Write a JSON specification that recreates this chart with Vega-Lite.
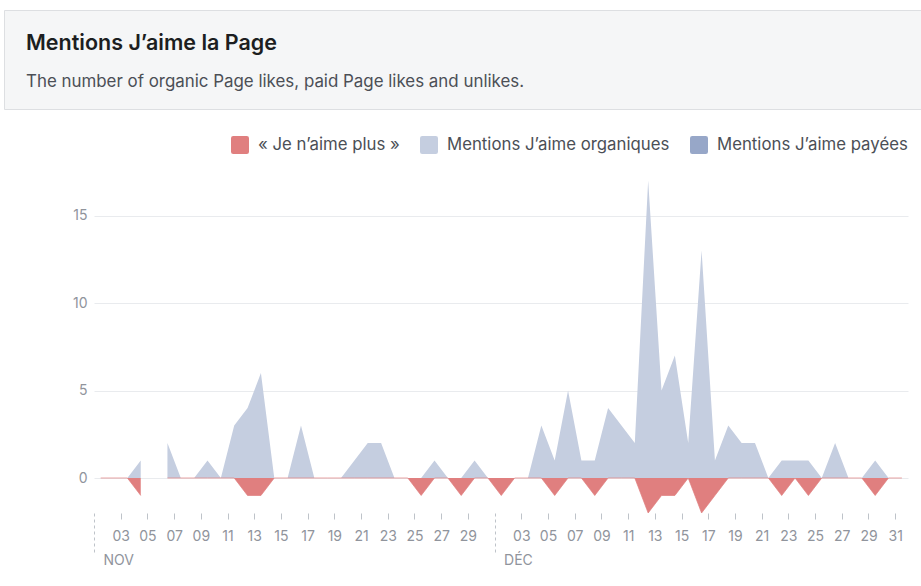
{
  "$schema": "https://vega.github.io/schema/vega-lite/v6.json",
  "padding": {"left": 3, "top": 9, "right": 0, "bottom": 0},
  "background": "white",
  "spacing": 25,
  "resolve": {"scale": {"color": "independent"}, "legend": {"color": "independent"}},
  "config": {
    "font": "Inter",
    "view": {"stroke": null}
  },
  "vconcat": [
    {
      "width": 918,
      "height": 99,
      "view": {"fill": "#f5f6f7", "stroke": "#dddfe2", "strokeWidth": 1},
      "title": {
        "text": "Mentions J’aime la Page",
        "subtitle": "The number of organic Page likes, paid Page likes and unlikes.",
        "anchor": "start",
        "frame": "group",
        "orient": "top",
        "offset": -80,
        "dx": 22,
        "font": "Inter",
        "fontSize": 21.5,
        "fontWeight": 600,
        "color": "#1c1e21",
        "subtitleFont": "Inter",
        "subtitleFontSize": 16.9,
        "subtitleColor": "#4b4f56",
        "subtitlePadding": 20
      },
      "data": {"values": [{"k": 1}]},
      "mark": {"type": "point", "opacity": 0},
      "encoding": {}
    },
    {
      "width": 905,
      "height": 378,
      "data": {
        "values": [
          {"d": "2023-11-01", "org": 0, "unl": 0, "paid": 0},
          {"d": "2023-11-02", "org": 0, "unl": 0, "paid": 0},
          {"d": "2023-11-03", "org": 0, "unl": 0, "paid": 0},
          {"d": "2023-11-04", "org": 1, "unl": -1, "paid": 0},
          {"d": "2023-11-05", "org": null, "unl": null, "paid": null},
          {"d": "2023-11-06", "org": 2, "unl": 0, "paid": 0},
          {"d": "2023-11-07", "org": 0, "unl": 0, "paid": 0},
          {"d": "2023-11-08", "org": 0, "unl": 0, "paid": 0},
          {"d": "2023-11-09", "org": 1, "unl": 0, "paid": 0},
          {"d": "2023-11-10", "org": 0, "unl": 0, "paid": 0},
          {"d": "2023-11-11", "org": 3, "unl": 0, "paid": 0},
          {"d": "2023-11-12", "org": 4, "unl": -1, "paid": 0},
          {"d": "2023-11-13", "org": 6, "unl": -1, "paid": 0},
          {"d": "2023-11-14", "org": 0, "unl": 0, "paid": 0},
          {"d": "2023-11-15", "org": 0, "unl": 0, "paid": 0},
          {"d": "2023-11-16", "org": 3, "unl": 0, "paid": 0},
          {"d": "2023-11-17", "org": 0, "unl": 0, "paid": 0},
          {"d": "2023-11-18", "org": 0, "unl": 0, "paid": 0},
          {"d": "2023-11-19", "org": 0, "unl": 0, "paid": 0},
          {"d": "2023-11-20", "org": 1, "unl": 0, "paid": 0},
          {"d": "2023-11-21", "org": 2, "unl": 0, "paid": 0},
          {"d": "2023-11-22", "org": 2, "unl": 0, "paid": 0},
          {"d": "2023-11-23", "org": 0, "unl": 0, "paid": 0},
          {"d": "2023-11-24", "org": 0, "unl": 0, "paid": 0},
          {"d": "2023-11-25", "org": 0, "unl": -1, "paid": 0},
          {"d": "2023-11-26", "org": 1, "unl": 0, "paid": 0},
          {"d": "2023-11-27", "org": 0, "unl": 0, "paid": 0},
          {"d": "2023-11-28", "org": 0, "unl": -1, "paid": 0},
          {"d": "2023-11-29", "org": 1, "unl": 0, "paid": 0},
          {"d": "2023-11-30", "org": 0, "unl": 0, "paid": 0},
          {"d": "2023-12-01", "org": 0, "unl": -1, "paid": 0},
          {"d": "2023-12-02", "org": 0, "unl": 0, "paid": 0},
          {"d": "2023-12-03", "org": 0, "unl": 0, "paid": 0},
          {"d": "2023-12-04", "org": 3, "unl": 0, "paid": 0},
          {"d": "2023-12-05", "org": 1, "unl": -1, "paid": 0},
          {"d": "2023-12-06", "org": 5, "unl": 0, "paid": 0},
          {"d": "2023-12-07", "org": 1, "unl": 0, "paid": 0},
          {"d": "2023-12-08", "org": 1, "unl": -1, "paid": 0},
          {"d": "2023-12-09", "org": 4, "unl": 0, "paid": 0},
          {"d": "2023-12-10", "org": 3, "unl": 0, "paid": 0},
          {"d": "2023-12-11", "org": 2, "unl": 0, "paid": 0},
          {"d": "2023-12-12", "org": 17, "unl": -2, "paid": 0},
          {"d": "2023-12-13", "org": 5, "unl": -1, "paid": 0},
          {"d": "2023-12-14", "org": 7, "unl": -1, "paid": 0},
          {"d": "2023-12-15", "org": 2, "unl": 0, "paid": 0},
          {"d": "2023-12-16", "org": 13, "unl": -2, "paid": 0},
          {"d": "2023-12-17", "org": 1, "unl": -1, "paid": 0},
          {"d": "2023-12-18", "org": 3, "unl": 0, "paid": 0},
          {"d": "2023-12-19", "org": 2, "unl": 0, "paid": 0},
          {"d": "2023-12-20", "org": 2, "unl": 0, "paid": 0},
          {"d": "2023-12-21", "org": 0, "unl": 0, "paid": 0},
          {"d": "2023-12-22", "org": 1, "unl": -1, "paid": 0},
          {"d": "2023-12-23", "org": 1, "unl": 0, "paid": 0},
          {"d": "2023-12-24", "org": 1, "unl": -1, "paid": 0},
          {"d": "2023-12-25", "org": 0, "unl": 0, "paid": 0},
          {"d": "2023-12-26", "org": 2, "unl": 0, "paid": 0},
          {"d": "2023-12-27", "org": 0, "unl": 0, "paid": 0},
          {"d": "2023-12-28", "org": 0, "unl": 0, "paid": 0},
          {"d": "2023-12-29", "org": 1, "unl": -1, "paid": 0},
          {"d": "2023-12-30", "org": 0, "unl": 0, "paid": 0},
          {"d": "2023-12-31", "org": 0, "unl": 0, "paid": 0}
        ]
      },
      "encoding": {
        "x": {
          "field": "d",
          "timeUnit": "utcyearmonthdate",
          "type": "temporal",
          "bandPosition": 0.5,
          "scale": {
            "domain": [
              {"year": 2023, "month": 11, "date": 1, "utc": true},
              {"year": 2023, "month": 12, "date": 31, "hours": 23, "utc": true}
            ],
            "range": [90, 904]
          },
          "axis": {
            "title": null,
            "grid": false,
            "domain": false,
            "tickCount": {"interval": "day", "step": 2},
            "tickColor": "#bec3c9",
            "tickWidth": 1,
            "tickSize": {"condition": {"test": "utcdate(datum.value) == 1", "value": 40}, "value": 6},
            "tickDash": {"condition": {"test": "utcdate(datum.value) == 1", "value": [3, 3]}, "value": []},
            "labelExpr": "utcdate(datum.value) == 1 ? (utcmonth(datum.value) == 10 ? 'NOV' : 'DÉC') : utcFormat(datum.value, '%d')",
            "labelAlign": {"condition": {"test": "utcdate(datum.value) == 1", "value": "left"}, "value": "center"},
            "labelOffset": {"condition": {"test": "utcdate(datum.value) == 1", "value": 9}, "value": 0},
            "labelPadding": {"condition": {"test": "utcdate(datum.value) == 1", "value": 0}, "value": 10},
            "labelColor": "#90949c",
            "labelFontSize": 14,
            "labelOverlap": false,
            "labelFlush": false
          }
        },
        "color": {
          "scale": {
            "domain": ["« Je n’aime plus »", "Mentions J’aime organiques", "Mentions J’aime payées"],
            "range": ["#e07f7f", "#c5cee0", "#97a7c8"]
          },
          "legend": {
            "title": null,
            "orient": "top-right",
            "offset": 0,
            "padding": 1,
            "direction": "horizontal",
            "symbolType": "M -0.75 -1 H 0.75 Q 1 -1 1 -0.75 V 0.75 Q 1 1 0.75 1 H -0.75 Q -1 1 -1 0.75 V -0.75 Q -1 -1 -0.75 -1 Z",
            "symbolSize": 324,
            "symbolStrokeWidth": 0,
            "symbolOpacity": 1,
            "labelFontSize": 16.8,
            "labelColor": "#4b4f56",
            "labelOffset": 9,
            "columnPadding": 20,
            "labelLimit": 400
          }
        }
      },
      "layer": [
        {
          "mark": {"type": "area", "invalid": "break-paths-show-domains", "opacity": 1},
          "encoding": {
            "y": {
              "field": "org",
              "type": "quantitative",
              "stack": null,
              "scale": {"domain": [-2, 19.6], "nice": false, "zero": false},
              "axis": {
                "title": null,
                "values": [0, 5, 10, 15],
                "domain": false,
                "ticks": false,
                "grid": true,
                "gridColor": "#e9ebee",
                "labelColor": "#90949c",
                "labelFontSize": 14,
                "labelPadding": 7,
                "offset": -90
              }
            },
            "color": {"datum": "Mentions J’aime organiques"}
          }
        },
        {
          "mark": {"type": "area", "invalid": "break-paths-show-domains", "opacity": 1},
          "encoding": {
            "y": {"field": "paid", "type": "quantitative", "stack": null},
            "color": {"datum": "Mentions J’aime payées"}
          }
        },
        {
          "mark": {"type": "area", "invalid": "break-paths-show-domains", "opacity": 1, "line": {"strokeWidth": 1, "color": "#e07f7f", "opacity": 0.7}},
          "encoding": {
            "y": {"field": "unl", "type": "quantitative", "stack": null},
            "color": {"datum": "« Je n’aime plus »"}
          }
        }
      ]
    }
  ]
}
